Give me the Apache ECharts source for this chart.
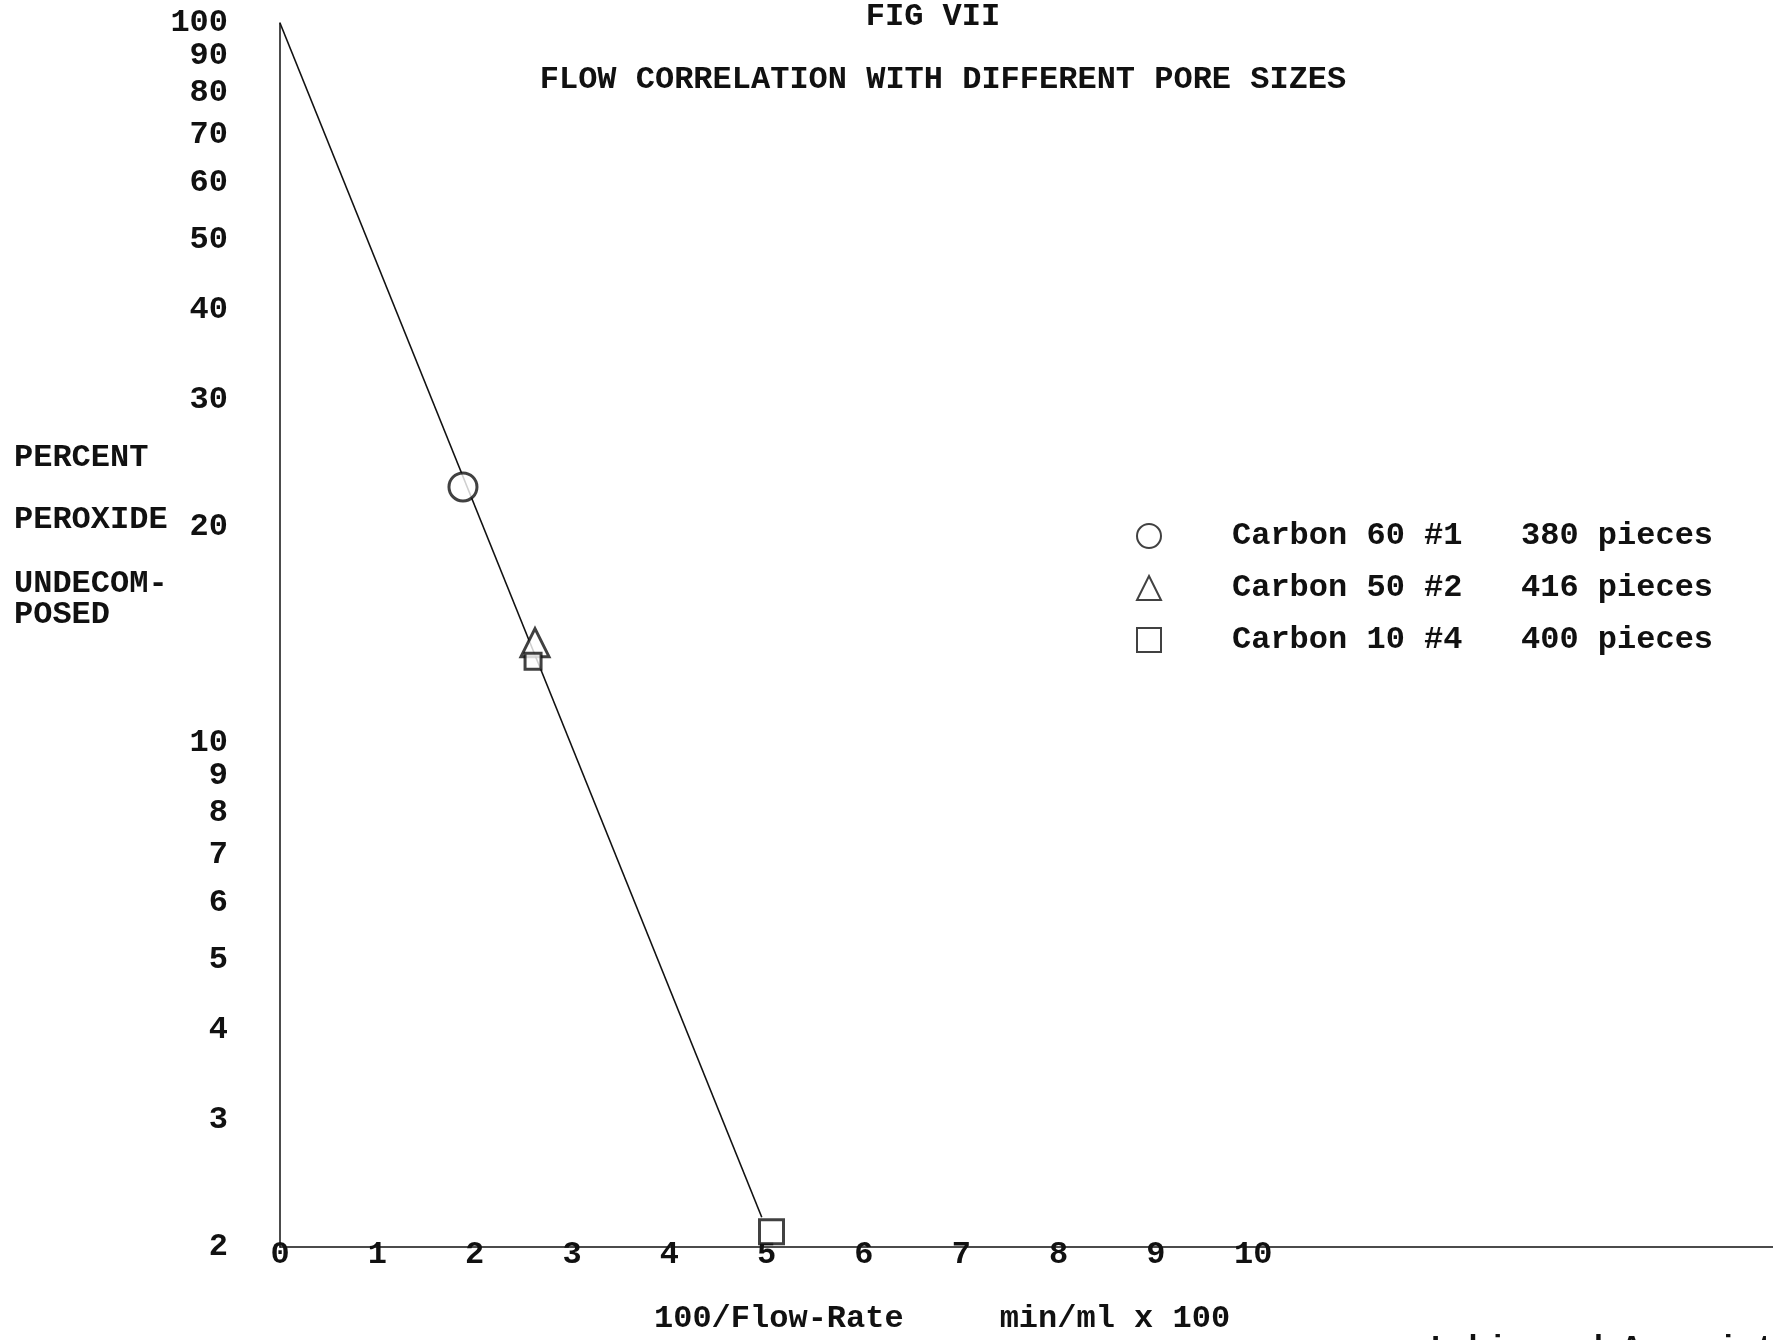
<!DOCTYPE html>
<html><head><meta charset="utf-8">
<script src="https://cdn.jsdelivr.net/npm/echarts@6/dist/echarts.min.js"></script>
<style>html,body{margin:0;padding:0;background:#fff}#c{width:1773px;height:1340px}</style>
</head><body><div id="c"></div>
<script>
const yTickValues = [2,3,4,5,6,7,8,9,10,20,30,40,50,60,70,80,90,100];
const xTickValues = [0,1,2,3,4,5,6,7,8,9,10];
const seriesNames = ['Carbon 60 #1','Carbon 50 #2','Carbon 10 #4'];
const pieceCounts = ['380 pieces','416 pieces','400 pieces'];
const carbon60 = [[1.88, 22.7]];
const carbon50 = [[2.62, 13.8]];
const carbon10 = [[2.60, 13.0],[5.05, 2.1]];
const fitLine = [[0, 100],[4.95, 2.2]];

const FONT = '"Liberation Mono", "DejaVu Sans Mono", monospace';
const chart = echarts.init(document.getElementById('c'), null, {renderer:'canvas'});
const markerStyle = {color:'#fff', borderColor:'#111', borderWidth:3};
chart.setOption({
  animation:false,
  backgroundColor:'#fff',
  textStyle:{fontFamily:FONT, color:'#111'},
  title:[
    {text:'FIG VII', left:928, top:12, textAlign:'center', textVerticalAlign:'middle',
     textStyle:{fontFamily:FONT, fontSize:32, fontWeight:'bold', color:'#111'}},
    {text:'FLOW CORRELATION WITH DIFFERENT PORE SIZES', left:938, top:75, textAlign:'center', textVerticalAlign:'middle',
     textStyle:{fontFamily:FONT, fontSize:32, fontWeight:'bold', color:'#111'}}
  ],
  grid:{left:280, right:0, top:23, bottom:93, containLabel:false},
  xAxis:{type:'value', min:0, max:15.34, interval:1,
    axisLine:{show:true, lineStyle:{color:'#111', width:1.5}},
    axisTick:{show:false}, splitLine:{show:false},
    axisLabel:{customValues:xTickValues, margin:8, verticalAlign:'middle',
      fontFamily:FONT, fontSize:32, fontWeight:'bold', color:'#111',
      formatter:v=>String(v)}},
  yAxis:{type:'log', logBase:10, min:2, max:100,
    axisLine:{show:true, lineStyle:{color:'#111', width:1.5}},
    axisTick:{show:false}, splitLine:{show:false}, minorTick:{show:false},
    axisLabel:{customValues:yTickValues, margin:52,
      fontFamily:FONT, fontSize:32, fontWeight:'bold', color:'#111',
      formatter:v=>String(Math.round(v))}},
  legend:{orient:'vertical', left:1131, top:515, itemWidth:24, itemHeight:24, itemGap:20,
    data:seriesNames,
    formatter:name=>{const i=seriesNames.indexOf(name);return '{sp|}{n|'+name+'}{p|'+pieceCounts[i]+'}';},
    textStyle:{fontFamily:FONT, fontSize:32, fontWeight:'bold', color:'#111',
      rich:{sp:{width:66}, n:{width:289, fontFamily:FONT, fontSize:32, fontWeight:'bold'}, p:{fontFamily:FONT, fontSize:32, fontWeight:'bold'}}}},
  graphic:[
    {type:'text', left:14, top:442, style:{text:'PERCENT', font:'bold 32px '+FONT, fill:'#111'}},
    {type:'text', left:14, top:504, style:{text:'PEROXIDE', font:'bold 32px '+FONT, fill:'#111'}},
    {type:'text', left:14, top:568, style:{text:'UNDECOM-', font:'bold 32px '+FONT, fill:'#111'}},
    {type:'text', left:14, top:599, style:{text:'POSED', font:'bold 32px '+FONT, fill:'#111'}},
    {type:'text', left:654, top:1303, style:{text:'100/Flow-Rate     min/ml x 100', font:'bold 32px '+FONT, fill:'#111'}},
    {type:'text', left:1430, top:1333, style:{text:'Lubin and Associates', font:'bold 32px '+FONT, fill:'#111'}}
  ],
  series:[
    {type:'line', name:'fit', data:fitLine, showSymbol:false, symbol:'none',
     lineStyle:{color:'#111', width:1.6}, silent:true, z:1},
    {type:'scatter', name:seriesNames[0], data:carbon60, symbol:'circle', symbolSize:28, itemStyle:markerStyle, z:3},
    {type:'scatter', name:seriesNames[1], data:carbon50, symbol:'triangle', symbolSize:28, itemStyle:markerStyle, z:3},
    {type:'scatter', name:seriesNames[2], data:[{value:carbon10[0], symbolSize:16},{value:carbon10[1], symbolSize:24}], symbol:'rect', symbolSize:24, itemStyle:markerStyle, z:3}
  ]
});
</script></body></html>
